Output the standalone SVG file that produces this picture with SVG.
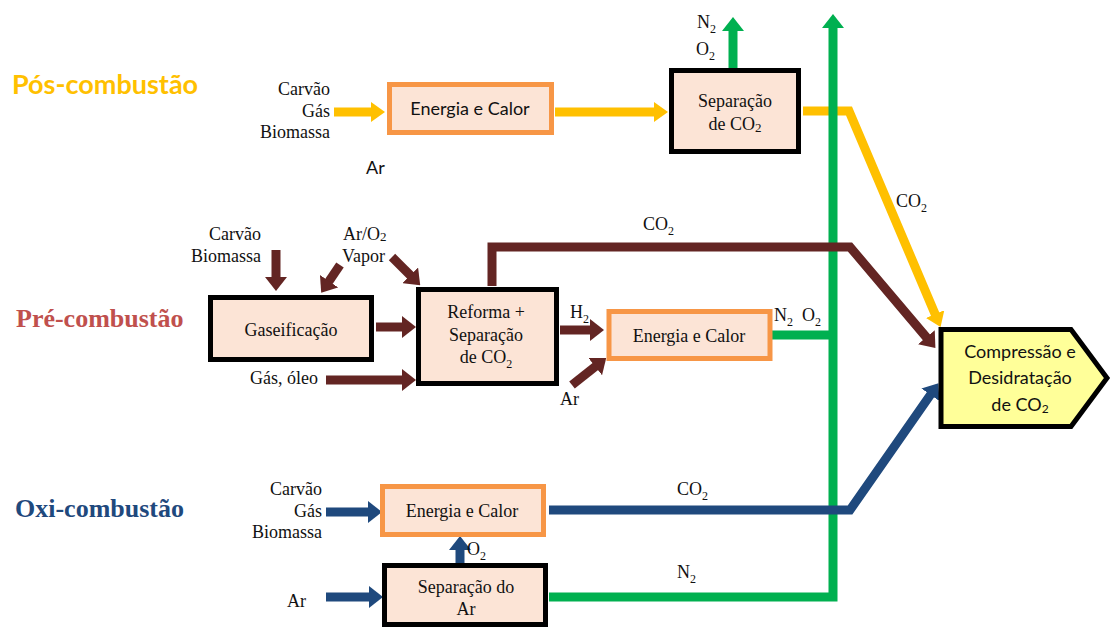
<svg xmlns="http://www.w3.org/2000/svg" width="1112" height="627" viewBox="0 0 1112 627">
<style>
.ob{stroke:#F79646;stroke-width:5;fill:#FCE4D6}
.bb{stroke:#000;stroke-width:5;fill:#FCE4D6}
.cb{stroke:#000;stroke-width:5;fill:#FFFF99;stroke-linejoin:miter}
.serif{font-family:"Liberation Serif","Times New Roman",serif;font-size:18px;fill:#111}
.sans{font-family:Lato,"Liberation Sans",sans-serif;font-size:18px;fill:#111}
.sub{font-size:12px}
.title{font-weight:bold;font-size:26px}
.c{text-anchor:middle}
.e{text-anchor:end}
.ln{fill:none;stroke-width:9;stroke-linejoin:miter;stroke-linecap:butt}
.y{stroke:#FFC000}
.r{stroke:#632523}
.g{stroke:#00B050}
.b{stroke:#1F497D}
</style>
<defs>
<marker id="ay" viewBox="0 -10 14 20" refX="1" refY="0" markerWidth="14" markerHeight="20" markerUnits="userSpaceOnUse" orient="auto"><path d="M0,-10 L14,0 L0,10 z" fill="#FFC000"/></marker>
<marker id="ar" viewBox="0 -11 14 22" refX="1" refY="0" markerWidth="14" markerHeight="22" markerUnits="userSpaceOnUse" orient="auto"><path d="M0,-11 L14,0 L0,11 z" fill="#632523"/></marker>
<marker id="ag" viewBox="0 -11 14 22" refX="1" refY="0" markerWidth="14" markerHeight="22" markerUnits="userSpaceOnUse" orient="auto"><path d="M0,-11 L14,0 L0,11 z" fill="#00B050"/></marker>
<marker id="ab" viewBox="0 -11 14 22" refX="1" refY="0" markerWidth="14" markerHeight="22" markerUnits="userSpaceOnUse" orient="auto"><path d="M0,-11 L14,0 L0,11 z" fill="#1F497D"/></marker>
</defs>

<g id="titles">
<text x="12" y="94" font-family="Lato,'Liberation Sans',sans-serif" font-weight="bold" font-size="27" fill="#FFC000">Pós-combustão</text>
<text x="16" y="327" class="serif title" style="fill:#C0504D">Pré-combustão</text>
<text x="15" y="517" class="serif title" style="fill:#1F497D">Oxi-combustão</text>
</g>

<g id="connectors">
<line class="ln y" x1="334" y1="112" x2="372" y2="112" marker-end="url(#ay)"/>
<line class="ln y" x1="555" y1="112" x2="655" y2="112" marker-end="url(#ay)"/>
<polyline class="ln y" points="803,111 849,111 935.5,315" marker-end="url(#ay)"/>

<line class="ln g" x1="733" y1="68" x2="733" y2="30" marker-end="url(#ag)"/>
<polyline class="ln g" points="549,597 833,597 833,27" marker-end="url(#ag)"/>
<line class="ln g" x1="772" y1="335" x2="833" y2="335"/>

<line class="ln r" x1="276" y1="250" x2="276" y2="278" marker-end="url(#ar)"/>
<line class="ln r" x1="340" y1="265" x2="328.5" y2="282" marker-end="url(#ar)"/>
<line class="ln r" x1="392" y1="257" x2="411" y2="276" marker-end="url(#ar)"/>
<line class="ln r" x1="376" y1="327" x2="403" y2="327" marker-end="url(#ar)"/>
<line class="ln r" x1="326" y1="380" x2="403" y2="380" marker-end="url(#ar)"/>
<line class="ln r" x1="560" y1="330" x2="591" y2="330" marker-end="url(#ar)"/>
<line class="ln r" x1="572" y1="385" x2="596" y2="366" marker-end="url(#ar)"/>
<polyline class="ln r" points="492,286 492,247 850,247 927,338" marker-end="url(#ar)"/>

<line class="ln b" x1="326" y1="512" x2="369" y2="512" marker-end="url(#ab)"/>
<polyline class="ln b" points="549,510 850,510 931,394" marker-end="url(#ab)"/>
<line class="ln b" x1="460" y1="564" x2="460" y2="549" marker-end="url(#ab)"/>
<line class="ln b" x1="326" y1="597" x2="370" y2="597" marker-end="url(#ab)"/>
</g>

<g id="energia-pos">
<rect class="ob" x="389.5" y="84.5" width="162" height="48"/>
<text class="sans c" x="470" y="115" font-size="17">Energia e Calor</text>
</g>
<g id="separacao-co2-pos">
<rect class="bb" x="671.5" y="70.5" width="127" height="81"/>
<text class="serif c" x="735" y="107">Separação</text>
<text class="serif c" x="735" y="130">de CO<tspan font-size="13" dy="2">2</tspan></text>
</g>
<g id="gaseificacao">
<rect class="bb" x="210.5" y="297.5" width="161" height="62"/>
<text class="serif c" x="291" y="336">Gaseificação</text>
</g>
<g id="reforma">
<rect class="bb" x="418.5" y="289.5" width="138" height="94"/>
<text class="serif c" x="486" y="318">Reforma +</text>
<text class="serif c" x="486" y="341">Separação</text>
<text class="serif c" x="486" y="363">de CO<tspan class="sub" dy="5">2</tspan></text>
</g>
<g id="energia-pre">
<rect class="ob" x="609" y="311.5" width="161" height="47"/>
<text class="serif c" x="689" y="342">Energia e Calor</text>
</g>
<g id="compressao">
<polygon class="cb" points="941,329.5 1071,329.5 1107,378 1071,426.5 941,426.5"/>
<text class="sans c" x="1020" y="358" font-size="16.5">Compressão e</text>
<text class="sans c" x="1020" y="384" font-size="16.5">Desidratação</text>
<text class="sans c" x="1020" y="411" font-size="16.5">de CO<tspan font-size="12" dy="2">2</tspan></text>
</g>
<g id="energia-oxi">
<rect class="ob" x="382.5" y="486.5" width="161" height="48"/>
<text class="serif c" x="462" y="517">Energia e Calor</text>
</g>
<g id="separacao-ar">
<rect class="bb" x="384.5" y="565.5" width="161" height="59"/>
<text class="serif c" x="466" y="593">Separação do</text>
<text class="serif c" x="466" y="615">Ar</text>
</g>

<g id="labels">
<text class="serif e" x="330" y="95">Carvão</text>
<text class="serif e" x="330" y="117">Gás</text>
<text class="serif e" x="330" y="138">Biomassa</text>
<text class="sans" x="366" y="174" font-size="17">Ar</text>
<text class="serif" x="697" y="28">N<tspan class="sub" dy="5">2</tspan></text>
<text class="serif" x="696" y="55">O<tspan class="sub" dy="5">2</tspan></text>
<text class="serif" x="896" y="207">CO<tspan class="sub" dy="5">2</tspan></text>
<text class="serif" x="643" y="230">CO<tspan class="sub" dy="5">2</tspan></text>

<text class="serif e" x="261" y="240">Carvão</text>
<text class="serif e" x="261" y="262">Biomassa</text>
<text class="serif" x="343" y="240">Ar/O<tspan font-size="13" dy="1">2</tspan></text>
<text class="serif" x="342" y="262">Vapor</text>
<text class="serif e" x="318" y="384">Gás, óleo</text>
<text class="serif" x="570" y="318">H<tspan class="sub" dy="5">2</tspan></text>
<text class="serif" x="560" y="405">Ar</text>
<text class="serif" x="774" y="321">N<tspan class="sub" dy="5">2</tspan></text>
<text class="serif" x="802" y="321">O<tspan class="sub" dy="5">2</tspan></text>

<text class="serif e" x="322" y="495">Carvão</text>
<text class="serif e" x="322" y="517">Gás</text>
<text class="serif e" x="322" y="538">Biomassa</text>
<text class="serif" x="467" y="555">O<tspan class="sub" dy="5">2</tspan></text>
<text class="serif" x="287" y="607">Ar</text>
<text class="serif" x="677" y="495">CO<tspan class="sub" dy="5">2</tspan></text>
<text class="serif" x="677" y="578">N<tspan class="sub" dy="5">2</tspan></text>
</g>
</svg>
